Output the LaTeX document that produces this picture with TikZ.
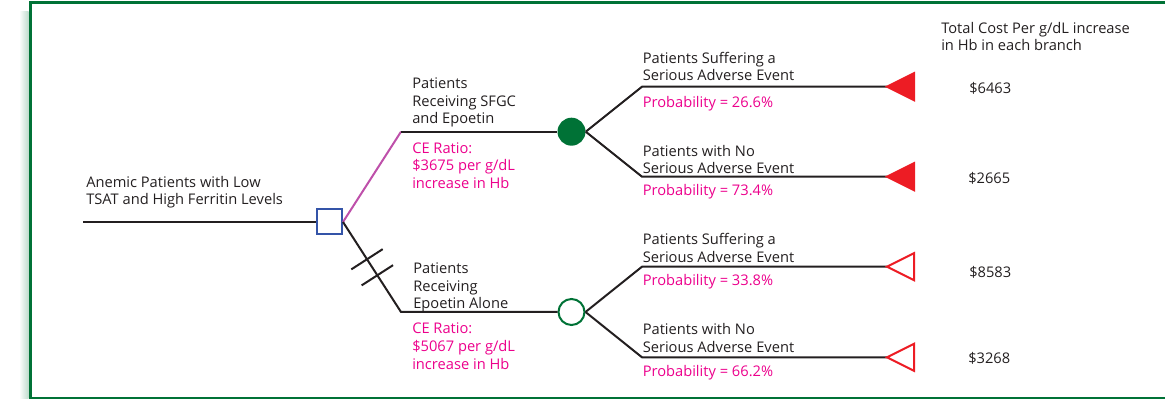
\documentclass[tikz,border=0pt]{standalone}
\usepackage{fontspec}
\setmainfont{Open Sans}
\usetikzlibrary{calc}
\definecolor{mgreen}{RGB}{0,114,54}
\definecolor{mpink}{RGB}{236,0,140}
\definecolor{mviolet}{RGB}{190,80,170}
\definecolor{mblue}{RGB}{52,84,168}
\definecolor{mred}{RGB}{237,28,36}
\definecolor{mink}{RGB}{35,31,32}

\tikzset{
    lbl/.style={anchor=base west, inner sep=0pt, align=left, text=mink,
        font=\fontsize{11}{13.2}\selectfont},
    plbl/.style={lbl, text=mpink},
    branch/.style={draw=mink, line width=1.5pt},
    endtri/.style={draw=mred, line width=1.5pt, line join=miter},
}

\begin{document}
\begin{tikzpicture}[x=0.75pt, y=-0.75pt]
    \useasboundingbox (0,0) rectangle (1165,399);

    % frame
    \shade[left color=white, right color=mgreen!25] (19,12) rectangle (28.5,399);
    \draw[mgreen, line width=2.25pt] (1170,2.5) -- (30,2.5) -- (30,398) -- (1170,398);

    % tree nodes
    \coordinate (start) at (83,222);
    \node[draw=mblue, line width=1.5pt, fill=white, minimum size=18.75pt, inner sep=0pt] (dec) at (329.5,222) {};
    \coordinate (cornA) at (401,131.7);
    \coordinate (cornB) at (401,312);
    \node[circle, fill=mgreen, minimum size=21pt, inner sep=0pt] (chA) at (571.5,131.7) {};
    \node[circle, draw=mgreen, line width=1.5pt, fill=white, minimum size=19.5pt, inner sep=0pt] (chB) at (571.5,312) {};
    \coordinate (oA1) at (642,86.7);
    \coordinate (oA2) at (642,176.7);
    \coordinate (oB1) at (642,266.7);
    \coordinate (oB2) at (642,357.3);
    \coordinate (eA1) at (887,86.7);
    \coordinate (eA2) at (887,176.7);
    \coordinate (eB1) at (887,266.7);
    \coordinate (eB2) at (887,357.3);

    % labels (placed on the baseline of their last line)
    \node[lbl] (root) at (86,205) {Anemic Patients with Low\\TSAT and High Ferritin Levels};
    \node[lbl] (armA) at (412,124) {Patients\\Receiving SFGC\\and Epoetin};
    \node[plbl] (ceA) at (412,188.3) {CE Ratio:\\\$3675 per g/dL\\increase in Hb};
    \node[lbl] (armB) at (413,309) {Patients\\Receiving\\Epoetin Alone};
    \node[plbl] (ceB) at (412,369) {CE Ratio:\\\$5067 per g/dL\\increase in Hb};
    \node[lbl] (sA1) at (642.5,81) {Patients Suffering a\\Serious Adverse Event};
    \node[plbl] (pA1) at (642.5,107.3) {Probability = 26.6\%};
    \node[lbl] (sA2) at (642.5,174) {Patients with No\\Serious Adverse Event};
    \node[plbl] (pA2) at (642.5,195.3) {Probability = 73.4\%};
    \node[lbl] (sB1) at (642.5,262.3) {Patients Suffering a\\Serious Adverse Event};
    \node[plbl] (pB1) at (642.5,285.3) {Probability = 33.8\%};
    \node[lbl] (sB2) at (642.5,352.3) {Patients with No\\Serious Adverse Event};
    \node[plbl] (pB2) at (642.5,376) {Probability = 66.2\%};
    \node[lbl] (head) at (941,51) {Total Cost Per g/dL increase\\in Hb in each branch};
    \node[lbl] (cA1) at (969,93.3) {\$6463};
    \node[lbl] (cA2) at (968,183.3) {\$2665};
    \node[lbl] (cB1) at (969,277.3) {\$8583};
    \node[lbl] (cB2) at (968,363.3) {\$3268};

    % branches
    \draw[branch] (start) -- (dec);
    \draw[branch, draw=mviolet] (dec.east) -- (cornA);
    \draw[branch] (cornA) -- (chA);
    \draw[branch] (dec.east) -- (cornB) -- (chB);
    \draw[branch] (chA.east) -- (oA1) -- (eA1);
    \draw[branch] (chA.east) -- (oA2) -- (eA2);
    \draw[branch] (chB.east) -- (oB1) -- (eB1);
    \draw[branch] (chB.east) -- (oB2) -- (eB2);

    % cut marks on the rejected arm
    \coordinate (h1) at ($(dec.east)!.414!(cornB)$);
    \coordinate (h2) at ($(dec.east)!.592!(cornB)$);
    \draw[branch] ($(h1)!14pt!90:(cornB)$) -- ($(h1)!14pt!-90:(cornB)$);
    \draw[branch] ($(h2)!14pt!90:(cornB)$) -- ($(h2)!14pt!-90:(cornB)$);

    % terminal markers
    \filldraw[endtri, fill=mred] (eA1) -- ++(27,-13.5) -- ++(0,27) -- cycle;
    \filldraw[endtri, fill=mred] (eA2) -- ++(27,-13.5) -- ++(0,27) -- cycle;
    \filldraw[endtri, fill=white] (eB1) -- ++(27,-13.5) -- ++(0,27) -- cycle;
    \filldraw[endtri, fill=white] (eB2) -- ++(27,-13.5) -- ++(0,27) -- cycle;
\end{tikzpicture}
\end{document}
